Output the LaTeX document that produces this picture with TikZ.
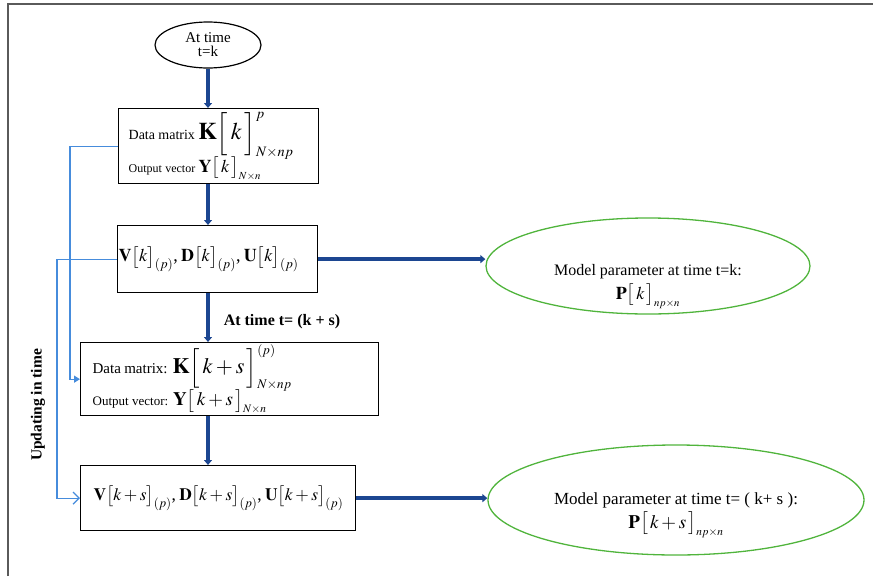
\documentclass[tikz,border=0pt]{standalone}
\usepackage{amsmath}
\usepackage{mathptmx}
\usepackage[no-math]{fontspec}
\setmainfont{Liberation Serif}
\usetikzlibrary{arrows.meta,shapes.geometric}
\definecolor{flowblue}{RGB}{28,70,145}
\definecolor{feedblue}{RGB}{70,140,220}
\definecolor{ellgreen}{RGB}{80,180,60}
\definecolor{framegray}{RGB}{90,90,90}
\newcommand{\fs}[1]{\fontsize{#1}{#1}\selectfont}
\newcommand{\tinysub}[1]{{\scriptscriptstyle #1}}
\begin{document}
\begin{tikzpicture}[x=1pt,y=-1pt,
  box/.style={draw, line width=1.3pt, rectangle, anchor=north west, inner sep=0pt,
    align=left},
  flow/.style={draw=flowblue, line width=3.5pt, -{Triangle[length=5pt,width=8pt]}},
  feed/.style={draw=feedblue, line width=1.3pt},
  model/.style={ellipse, draw=ellgreen, line width=1.3pt, inner sep=0pt},
  modeltext/.style={align=center, inner sep=0pt}]
\useasboundingbox (0,0) rectangle (873,576);
\draw[framegray, line width=1.5pt] (8,576) -- (8,4) -- (873,4);

\node[ellipse, draw, line width=1.2pt, minimum width=106pt, minimum height=46pt, inner sep=0pt,
  align=center, font=\fs{15}] (s) at (208,45) {At time\\[-1pt]t=k};

\node[box, minimum width=200pt, minimum height=75pt, text width=180pt] (b1) at (118,108)
  {\mbox{\fs{14}Data matrix {\fs{24}$\mathbf{K}\Big[\,k\,\Big]^{\tinysub{p}}_{\tinysub{N\times np}}$}}\\[-3pt]
   \mbox{\fs{12}Output vector {\fs{18}$\mathbf{Y}\big[\,k\,\big]_{\tinysub{N\times n}}$}}};

\node[box, minimum width=200pt, minimum height=67pt, text width=198pt] (b2) at (117,225)
  {\mbox{\fs{18}$\mathbf{V}\big[k\big]_{(p)}$, $\mathbf{D}\big[k\big]_{(p)}$, $\mathbf{U}\big[k\big]_{(p)}$}};

\node[box, minimum width=298pt, minimum height=73pt, text width=274pt] (b3) at (80,342)
  {\mbox{\fs{15}Data matrix: {\fs{22}$\mathbf{K}\Big[\,k+s\,\Big]^{\tinysub{(p)}}_{\tinysub{N\times np}}$}}\\[-3pt]
   \mbox{\fs{13}Output vector: {\fs{19}$\mathbf{Y}\big[\,k+s\,\big]_{\tinysub{N\times n}}$}}};

\node[box, minimum width=275pt, minimum height=65pt, text width=249pt] (b4) at (80,465)
  {\mbox{\fs{17.4}$\mathbf{V}\big[k+s\big]_{(p)}$, $\mathbf{D}\big[k+s\big]_{(p)}$, $\mathbf{U}\big[k+s\big]_{(p)}$}};

\node[model, minimum width=324pt, minimum height=96pt] (m1) at (648,266) {};
\node[modeltext, font=\fs{16}] (t1a) at (648,272) {Model parameter at time t=k:};
\node[modeltext, font=\fs{18}] (t1b) at (648,296) {$\mathbf{P}\big[\,k\,\big]_{\tinysub{np\times n}}$};
\node[model, minimum width=376pt, minimum height=110pt] (m2) at (676,500) {};
\node[modeltext, font=\fs{17}] (t2a) at (676,500) {Model parameter at time t= ( k+ s ):};
\node[modeltext, font=\fs{19}] (t2b) at (676,525) {$\mathbf{P}\big[\,k+s\,\big]_{\tinysub{np\times n}}$};

\draw[flow] (s.south) -- (s.south |- b1.north);
\draw[flow] (s |- b1.south) -- (s |- b2.north);
\draw[flow] (s |- b2.south) -- (s |- b3.north);
\draw[flow] (s |- b3.south) -- (s |- b4.north);
\draw[flow] (b2.east) -- (b2.east -| m1.west);
\draw[flow] (b4.east) -- (b4.east -| m2.west);

\node[font=\fs{16}\bfseries] (lab) at (282,322) {At time t= (k + s)};
\node[rotate=90, font=\fs{15.5}\bfseries] (upd) at (38,405) {Updating in time};

\draw[feed, -{Triangle[length=6pt,width=7pt]}] (b1.west) -- ++(-48,0) |- (b3.west);
\draw[feed, -{Straight Barb[length=6pt,width=12pt]}] (b2.west) -- ++(-60,0) |- (b4.west);
\end{tikzpicture}
\end{document}
